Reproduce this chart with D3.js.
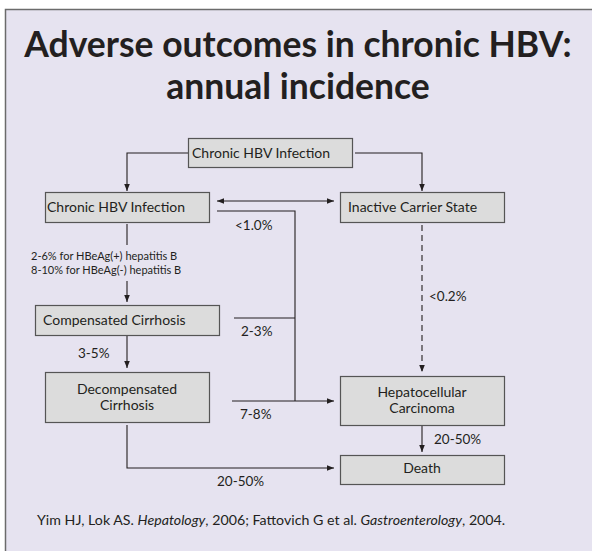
<!DOCTYPE html>
<html lang="en">
<head>
  <meta charset="UTF-8"/>
  <title>Adverse outcomes in chronic HBV</title>
  <script src="https://d3js.org/d3.v7.min.js"></script>
  <style>
    body { margin:0; background:#fff; }
    svg { display:block; font-family:Lato, "Open Sans", sans-serif; }
  </style>
</head>
<body>
  <svg width="592" height="551"></svg>
  <script>
    // --- data ---
    const titleLines = ['Adverse outcomes in chronic HBV:', 'annual incidence'];
    const nodes = [
      { id:'start',    lines:['Chronic HBV Infection'] },
      { id:'chronic',  lines:['Chronic HBV Infection'] },
      { id:'inactive', lines:['Inactive Carrier State'] },
      { id:'comp',     lines:['Compensated Cirrhosis'] },
      { id:'decomp',   lines:['Decompensated', 'Cirrhosis'] },
      { id:'hcc',      lines:['Hepatocellular', 'Carcinoma'] },
      { id:'death',    lines:['Death'] }
    ];
    const edges = [
      { id:'e1', from:'start',    to:'chronic' },
      { id:'e2', from:'start',    to:'inactive' },
      { id:'e3', from:'chronic',  to:'inactive', both:true },
      { id:'e4', from:'chronic',  to:'hcc', label:['<1.0%'] },
      { id:'e5', from:'comp',     to:'hcc', label:['2-3%'] },
      { id:'e6', from:'decomp',   to:'hcc', label:['7-8%'] },
      { id:'e7', from:'chronic',  to:'comp', label:['2-6% for HBeAg(+) hepatitis B','8-10% for HBeAg(-) hepatitis B'] },
      { id:'e8', from:'comp',     to:'decomp', label:['3-5%'] },
      { id:'e9', from:'decomp',   to:'death', label:['20-50%'] },
      { id:'e10', from:'inactive', to:'hcc', label:['<0.2%'], dashed:true },
      { id:'e11', from:'hcc',      to:'death', label:['20-50%'] }
    ];
    const footnote = [
      { t:'Yim HJ, Lok AS. ', i:false },
      { t:'Hepatology', i:true },
      { t:', 2006; Fattovich G et al. ', i:false },
      { t:'Gastroenterology', i:true },
      { t:', 2004.', i:false }
    ];

    // --- layout (positions only) ---
    const box = {
      start:    { x:188, y:138, w:164, h:29, align:'start', pad:4,  base:[158] },
      chronic:  { x:45,  y:192, w:164, h:30, align:'start', pad:2,  base:[212] },
      inactive: { x:340, y:192, w:164, h:30, align:'start', pad:8,  base:[212] },
      comp:     { x:35,  y:305, w:184, h:30, align:'start', pad:8,  base:[325] },
      decomp:   { x:45,  y:372, w:164, h:50, align:'middle', base:[394,410] },
      hcc:      { x:340, y:376, w:164, h:49, align:'middle', base:[397,413] },
      death:    { x:340, y:455, w:164, h:29, align:'middle', base:[473] }
    };
    const route = {
      e1:  { pts:[[188,153],[127,153],[127,191]], end:true },
      e2:  { pts:[[355,153],[422,153],[422,191]], end:true },
      e3:  { pts:[[217,201],[334,201]], end:true, start:true },
      e4:  { pts:[[217,211],[295,211],[295,401]], lx:235, ly:230 },
      e5:  { pts:[[234,318],[295,318]], lx:241, ly:336 },
      e6:  { pts:[[232,401],[334,401]], end:true, lx:240, ly:419 },
      e7:  { pts:[[127,224],[127,245]], extra:[[127,281],[127,302]], end:true, lx:31, ly:260, lsize:11, lstep:14 },
      e8:  { pts:[[127,336],[127,368]], end:true, lx:78, ly:358 },
      e9:  { pts:[[127,425],[127,468],[334,468]], end:true, lx:217, ly:486 },
      e10: { pts:[[422,225],[422,372]], end:true, lx:429, ly:301 },
      e11: { pts:[[422,426],[422,452]], end:true, lx:434, ly:444 }
    };

    const ink = '#231f20';
    const svg = d3.select('svg');

    // background panel
    svg.append('rect').attr('x',5.5).attr('y',9.5).attr('width',600).attr('height',560)
      .attr('fill','#e6e3f0').attr('stroke','#6b6b6b').attr('stroke-width',1.5);

    // title
    svg.append('g').selectAll('text').data(titleLines).join('text')
      .attr('x',298).attr('y',(d,i)=>57+i*42)
      .attr('text-anchor','middle')
      .attr('font-size',35.5).attr('font-weight',700).attr('fill',ink)
      .text(d=>d);

    // arrow marker
    const defs = svg.append('defs');
    defs.append('marker').attr('id','arr')
      .attr('viewBox','0 0 10 10').attr('refX',10).attr('refY',5)
      .attr('markerUnits','userSpaceOnUse')
      .attr('markerWidth',7).attr('markerHeight',7)
      .attr('orient','auto-start-reverse')
      .append('path').attr('d','M0,1 L10,5 L0,9Z').attr('fill',ink);

    const line = d3.line();
    const eg = svg.append('g');
    edges.forEach(e=>{
      const r = route[e.id];
      const segs = r.extra ? [[r.pts,false],[r.extra,r.end]] : [[r.pts,r.end]];
      segs.forEach(([pts,hasEnd])=>{
        eg.append('path').attr('d',line(pts))
          .attr('fill','none').attr('stroke',ink).attr('stroke-width',1.1)
          .attr('stroke-dasharray',e.dashed?'6,4':null)
          .attr('marker-end',hasEnd?'url(#arr)':null)
          .attr('marker-start',r.start?'url(#arr)':null);
      });
      if(e.label){
        eg.append('g').selectAll('text').data(e.label).join('text')
          .attr('x',r.lx).attr('y',(d,i)=>r.ly+i*(r.lstep||14))
          .attr('font-size',r.lsize||13.5).attr('fill',ink)
          .text(d=>d);
      }
    });

    // boxes
    const ng = svg.append('g').selectAll('g').data(nodes).join('g');
    ng.append('rect')
      .attr('x',d=>box[d.id].x+0.5).attr('y',d=>box[d.id].y+0.5)
      .attr('width',d=>box[d.id].w).attr('height',d=>box[d.id].h)
      .attr('fill','#dcdcdc').attr('stroke','#555').attr('stroke-width',1.2);
    ng.each(function(d){
      const b = box[d.id];
      d3.select(this).selectAll('text').data(d.lines).join('text')
        .attr('x',b.align==='middle'? b.x+b.w/2 : b.x+b.pad)
        .attr('y',(t,i)=>b.base[i])
        .attr('text-anchor',b.align)
        .attr('font-size',14).attr('fill',ink)
        .text(t=>t);
    });

    // footnote
    svg.append('text').attr('x',37).attr('y',525)
      .attr('font-size',14.2).attr('fill',ink)
      .selectAll('tspan').data(footnote).join('tspan')
        .attr('font-style',d=>d.i?'italic':null)
        .text(d=>d.t);
  </script>
</body>
</html>
